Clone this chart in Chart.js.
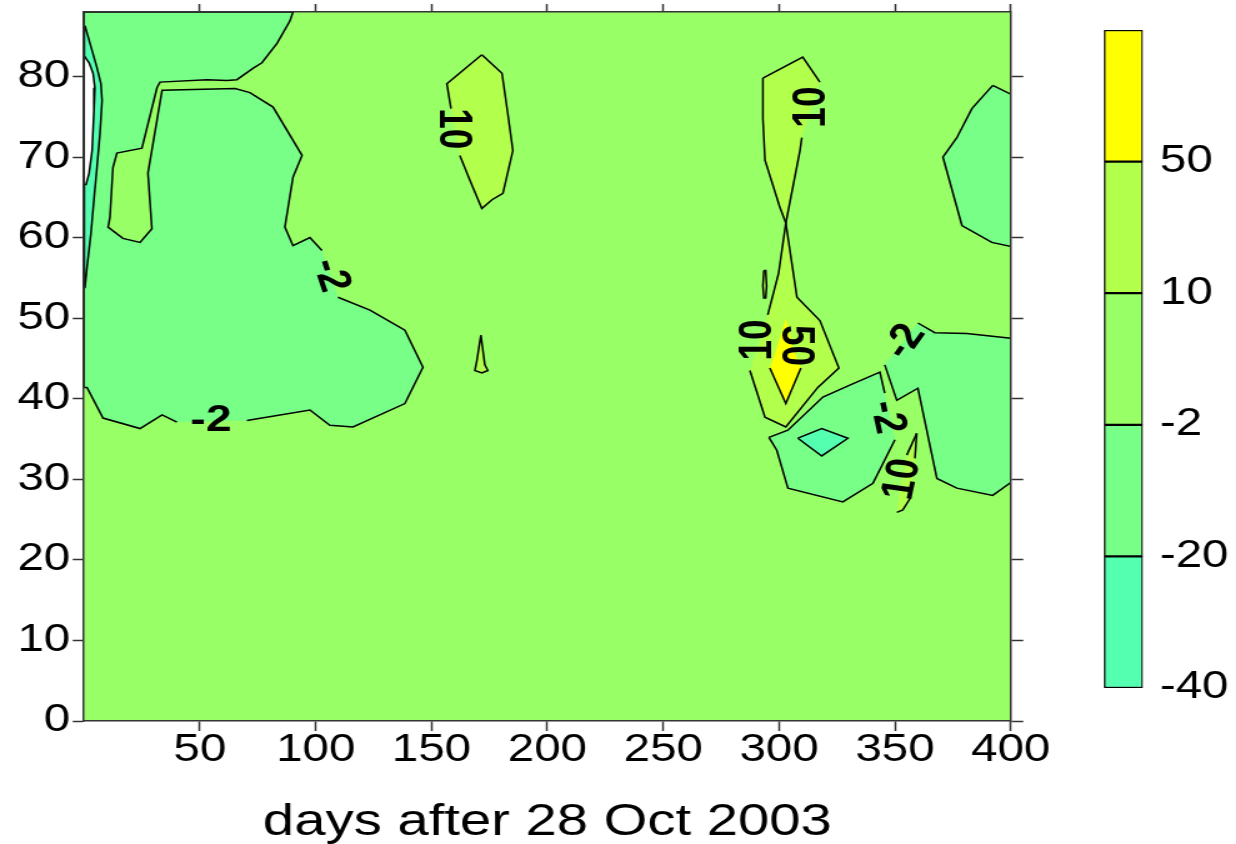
<!DOCTYPE html>
<html>
<head>
<meta charset="utf-8">
<script src="https://cdn.jsdelivr.net/npm/chart.js@4.4.1/dist/chart.umd.min.js"></script>
<style>
  html, body { margin: 0; padding: 0; background: #fff; width: 1236px; height: 844px; overflow: hidden; }
  canvas { position: absolute; top: 0; }
</style>
</head>
<body>
<!-- the drawing is rendered narrow and widened by 1.25 horizontally -->
<canvas id="plot" width="989" height="844" style="left:0;width:1236.25px;height:844px"></canvas>
<canvas id="scale" width="109" height="844" style="left:1100px;width:136.25px;height:844px"></canvas>
<script>
// ---- axis ticks ----
const xTicks = [50, 100, 150, 200, 250, 300, 350, 400];
const yTicks = [0, 10, 20, 30, 40, 50, 60, 70, 80];

// ---- contour levels (colour bands, bottom to top) ----
const bandLevels = ['-40', '-20', '-2', '10', '50'];

// ---- contour regions: [day, depth] vertices ----
const leftTrough = [
  [0, 88], [90.2, 88], [88.9, 86.9], [83.3, 84.1], [76.8, 81.7], [72.9, 81.0], [66.0, 79.6],
  [61.7, 79.5], [53.1, 79.6], [32.8, 79.3], [31.5, 78.6], [25.0, 71.1], [14.2, 70.5],
  [12.5, 68.7], [11.2, 62.5], [10.4, 61.3], [16.8, 59.9], [24.2, 59.4], [29.3, 61.1],
  [27.6, 68.0], [33.7, 78.3], [65.2, 78.5], [71.6, 78.0], [81.6, 76.2], [94.1, 70.2],
  [90.2, 67.5], [86.7, 61.3], [90.2, 59.0], [97.5, 60.0], [102.7, 58.4], [109.6, 52.6],
  [123.4, 51.0], [138.5, 48.5], [146.3, 43.9], [138.5, 39.4], [116.1, 36.5], [106.1, 36.7],
  [97.5, 38.6], [70.3, 37.3], [40.1, 37.1], [33.7, 38.0], [24.2, 36.3], [8.2, 37.6],
  [1.3, 41.4], [0, 41.4]
];
const leftStrip = [
  [0.4, 86.3], [2.6, 84.1], [5.6, 81.1], [7.3, 79.1], [7.8, 77.0], [6.9, 72.9], [5.6, 68.7],
  [4.3, 64.7], [3.0, 60.5], [1.3, 56.3], [0.4, 53.8], [0, 53.8], [0, 86.3]
];
const leftVoid = [
  [0, 82.6], [2.2, 81.7], [3.9, 80.4], [4.7, 78.6], [4.3, 75.8], [3.5, 70.8], [2.2, 68.0],
  [0.9, 66.6], [0, 66.6]
];
const midRidge = [
  [171.7, 82.7], [180.4, 80.4], [182.9, 75.4], [185.1, 70.8], [180.8, 65.5], [176.1, 64.7],
  [171.7, 63.6], [166.6, 67.1], [162.2, 70.2], [158.4, 76.0], [156.6, 79.1]
];
const midSpike = [
  [171.3, 47.9], [173.0, 44.2], [174.3, 43.5], [171.7, 43.2], [168.7, 43.5], [169.6, 44.8]
];
const eastTrough = [
  [392.2, 78.9], [400, 77.8], [400, 58.9], [391.8, 59.4], [378.9, 61.5], [376.3, 64.2],
  [370.7, 70.0], [376.7, 72.4], [383.2, 76.0]
];
const eastRidge = [
  [293.0, 79.8], [310.2, 82.4], [317.6, 79.3], [309.8, 72.4], [309.0, 70.8], [302.9, 61.8],
  [307.7, 52.6], [317.6, 49.7], [325.8, 43.8], [316.7, 41.4], [302.9, 36.5], [293.9, 37.7],
  [287.4, 43.5], [295.1, 50.4], [299.8, 55.6], [302.9, 61.8], [300.3, 63.8], [293.9, 69.6],
  [293.0, 74.8]
];
const eastRidgeSliver = [
  [293.4, 55.9], [294.2, 55.9], [294.6, 54.0], [294.2, 52.5], [293.4, 52.5], [293.0, 54.0]
];
const eastPeak = [
  [296.0, 43.8], [299.4, 46.6], [302.9, 50.0], [305.9, 46.3], [309.4, 43.8], [302.9, 39.4]
];
const southTrough = [
  [295.6, 35.2], [303.8, 36.1], [318.9, 40.2], [330.5, 41.7], [343.5, 43.3], [345.6, 40.7],
  [350.0, 34.9], [340.5, 29.5], [327.5, 27.2], [303.8, 28.9], [299.0, 33.6]
];
const southCore = [
  [308.1, 35.1], [318.4, 36.3], [329.7, 35.1], [318.4, 32.9]
];
const southEastTrough = [
  [359.9, 49.4], [367.2, 48.2], [381.0, 48.1], [400, 47.5], [400, 29.6], [392.2, 28.0],
  [376.7, 28.9], [368.1, 30.1], [359.9, 41.3], [350.8, 39.8], [345.6, 44.2]
];
const southRidgeSliver = [
  [359.4, 35.7], [358.6, 32.6], [356.9, 27.8], [353.4, 26.2], [350.8, 25.9], [352.1, 28.7],
  [355.1, 33.0]
];

// band index of each region (-1 = below the lowest level) and
// the edges whose contour line is interrupted by a label
const regions = [
  { pts: leftTrough,       band: 1,  gaps: [29, 38] },
  { pts: leftStrip,        band: 0,  gaps: [] },
  { pts: leftVoid,         band: -1, gaps: [] },
  { pts: midRidge,         band: 3,  gaps: [8] },
  { pts: midSpike,         band: 3,  gaps: [] },
  { pts: eastTrough,       band: 1,  gaps: [] },
  { pts: eastRidge,        band: 3,  gaps: [2, 12] },
  { pts: eastRidgeSliver,  band: 3,  gaps: [] },
  { pts: eastPeak,         band: 4,  gaps: [0, 1, 2, 3] },
  { pts: southTrough,      band: 1,  gaps: [5] },
  { pts: southCore,        band: 0,  gaps: [] },
  { pts: southEastTrough,  band: 1,  gaps: [10] },
  { pts: southRidgeSliver, band: 3,  gaps: [1, 4, 5] }
];

// contour labels: text, day, depth, rotation (deg)
const contourLabels = [
  { text: '-2', x: 106.2, y: 55.3, angle: 75 },
  { text: '-2', x: 54.8,  y: 37.2, angle: 0 },
  { text: '10', x: 159.2, y: 73.5, angle: 90 },
  { text: '10', x: 314.1, y: 76.2, angle: -90 },
  { text: '10', x: 291.3, y: 47.3, angle: -90 },
  { text: '50', x: 306.8, y: 46.6, angle: 90 },
  { text: '-2', x: 354.3, y: 47.1, angle: -60 },
  { text: '-2', x: 346.5, y: 37.7, angle: 80 },
  { text: '10', x: 353.3, y: 30.0, angle: -80 }
];

// ---- styling ----
const FONT = '"Liberation Sans", Arial, sans-serif';
const bandColors = ['#55FFB0', '#77FF88', '#99FF66', '#B2FF4C', '#FFFF00'];
const voidColor = '#FFFFFF';
const axisColor = '#333';
Chart.defaults.font.family = FONT;
Chart.defaults.color = '#000';

function ring(pts) {
  const d = pts.map(p => ({ x: p[0], y: p[1] }));
  d.push({ x: pts[0][0], y: pts[0][1] });
  return d;
}

const datasets = [];
regions.forEach((r, i) => {
  const fillColor = r.band < 0 ? voidColor : bandColors[r.band];
  // filled area
  datasets.push({
    data: ring(r.pts), fill: 'shape', backgroundColor: fillColor,
    borderWidth: 0, borderColor: 'rgba(0,0,0,0)', pointRadius: 0, pointHoverRadius: 0,
    tension: 0, order: -(2 * i)
  });
  // contour line
  datasets.push({
    data: ring(r.pts), fill: false, borderColor: '#000', borderWidth: 1.5,
    pointRadius: 0, pointHoverRadius: 0, tension: 0, order: -(2 * i + 1),
    segment: { borderColor: ctx => r.gaps.includes(ctx.p0DataIndex) ? 'rgba(0,0,0,0)' : '#000' }
  });
});

const setTicks = list => scale => { scale.ticks = list.map(v => ({ value: v })); };
const noPad = s => { s.paddingTop = 0; s.paddingBottom = 0; s.paddingLeft = 0; s.paddingRight = 0; };

const areaFill = {
  id: 'areaFill',
  beforeDatasetsDraw(chart) {
    const { ctx, chartArea: a } = chart;
    ctx.save();
    ctx.fillStyle = bandColors[2];
    ctx.fillRect(a.left, a.top, a.right - a.left, a.bottom - a.top);
    ctx.restore();
  }
};

const labelPlugin = {
  id: 'contourLabels',
  afterDatasetsDraw(chart) {
    const { ctx, scales } = chart;
    ctx.save();
    ctx.font = 'bold 37px ' + FONT;
    ctx.fillStyle = '#000';
    ctx.textAlign = 'center';
    ctx.textBaseline = 'middle';
    contourLabels.forEach(l => {
      ctx.save();
      ctx.translate(scales.x.getPixelForValue(l.x), scales.y.getPixelForValue(l.y));
      ctx.rotate(l.angle * Math.PI / 180);
      ctx.fillText(l.text, 0, 0);
      ctx.restore();
    });
    ctx.restore();
  }
};

const tickFont = { family: FONT, size: 38 };
const border = { color: axisColor, width: 1.5, z: 1 };

new Chart(document.getElementById('plot'), {
  type: 'line',
  data: { datasets },
  plugins: [areaFill, labelPlugin],
  options: {
    responsive: false, animation: false, events: [],
    layout: { padding: 0 },
    plugins: { legend: { display: false }, tooltip: { enabled: false } },
    scales: {
      x: {
        type: 'linear', position: 'bottom', min: 0, max: 400,
        afterBuildTicks: setTicks(xTicks),
        ticks: { font: tickFont, color: '#000', padding: -3, maxRotation: 0, autoSkip: false },
        grid: { drawOnChartArea: false, drawTicks: true, tickLength: 10, tickWidth: 1.5, tickColor: axisColor },
        border,
        title: { display: true, text: 'days after 28 Oct 2003', color: '#000',
                 font: { family: FONT, size: 45, lineHeight: 1 }, padding: { top: 0, bottom: -1 } },
        afterFit: s => { s.height = 123; noPad(s); }
      },
      x2: {
        type: 'linear', position: 'top', min: 0, max: 400,
        afterBuildTicks: setTicks(xTicks),
        ticks: { display: false },
        grid: { drawOnChartArea: false, drawTicks: true, tickLength: 8, tickWidth: 1.5, tickColor: axisColor },
        border,
        afterFit: s => { s.height = 12; noPad(s); }
      },
      y: {
        type: 'linear', position: 'left', min: 0, max: 88,
        afterBuildTicks: setTicks(yTicks),
        ticks: { font: tickFont, color: '#000', padding: 2 },
        grid: { drawOnChartArea: false, drawTicks: true, tickLength: 9, tickWidth: 1.5, tickColor: axisColor },
        border,
        afterFit: s => { s.width = 67.2; noPad(s); }
      },
      y2: {
        type: 'linear', position: 'right', min: 0, max: 88,
        afterBuildTicks: setTicks(yTicks),
        ticks: { display: false },
        grid: { drawOnChartArea: false, drawTicks: true, tickLength: 10, tickWidth: 1.5, tickColor: axisColor },
        border,
        afterFit: s => { s.width = 989 - 808.8; noPad(s); }
      }
    }
  }
});

// ---- colour scale ----
new Chart(document.getElementById('scale'), {
  type: 'bar',
  data: {
    labels: [''],
    datasets: bandColors.map(c => ({
      data: [1], backgroundColor: c, borderColor: '#000', borderWidth: 1.5,
      borderSkipped: false, barPercentage: 1, categoryPercentage: 1
    }))
  },
  options: {
    responsive: false, animation: false, events: [],
    layout: { padding: { left: 3.2, top: 30, bottom: 156, right: 0 } },
    plugins: { legend: { display: false }, tooltip: { enabled: false } },
    scales: {
      x: { display: false, stacked: true },
      y: {
        position: 'right', stacked: true, min: 0, max: 5,
        afterBuildTicks: setTicks([0, 1, 2, 3, 4]),
        ticks: { font: tickFont, color: '#000', padding: 13.6, callback: v => bandLevels[v] },
        grid: { display: false, drawTicks: false },
        border: { display: false },
        afterFit: s => { s.width = 109 - 34.4; noPad(s); }
      }
    }
  }
});
</script>
</body>
</html>
